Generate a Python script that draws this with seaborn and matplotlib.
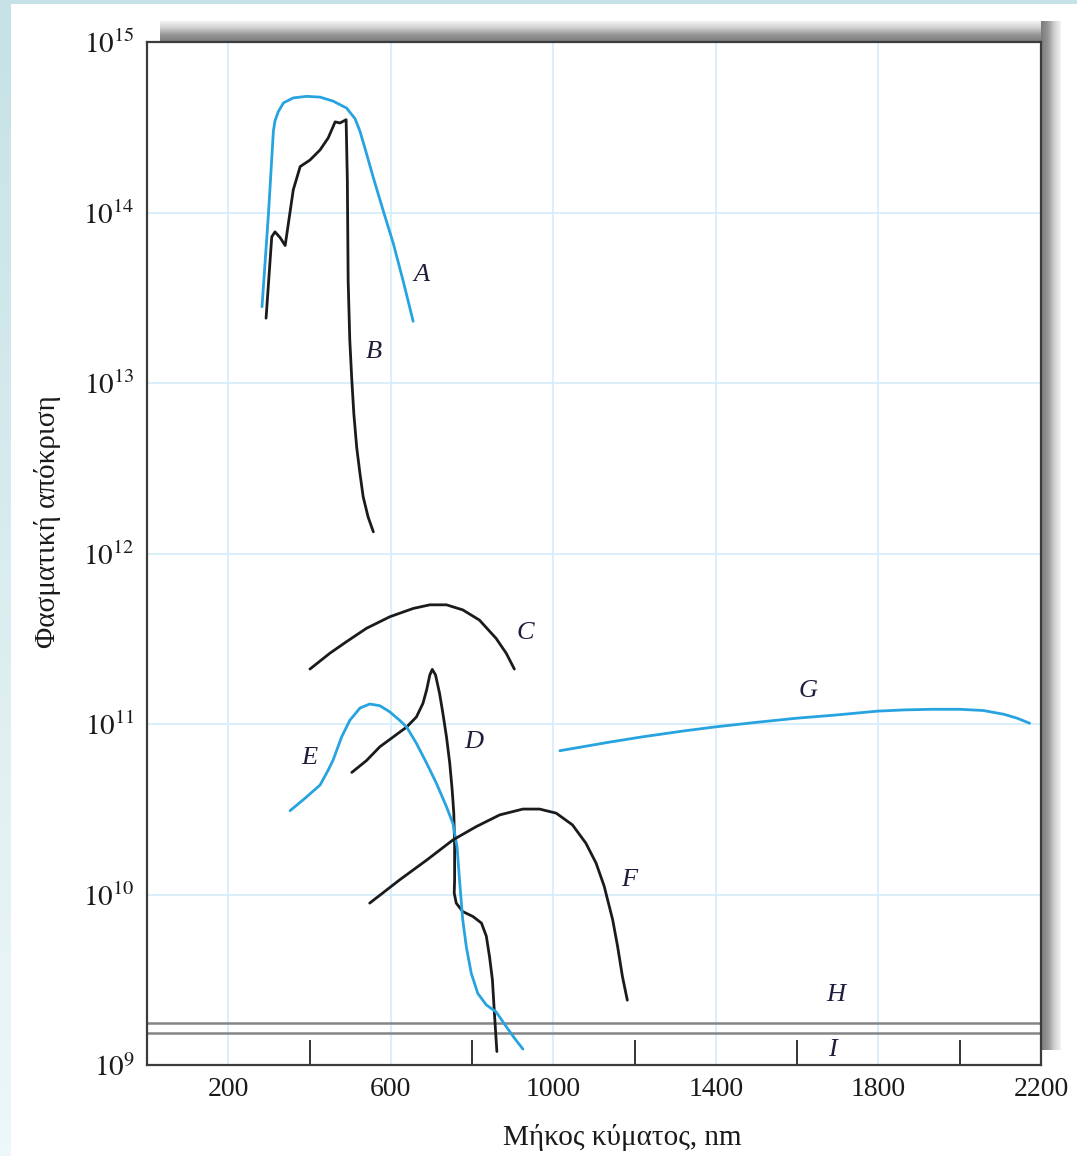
import matplotlib.pyplot as plt
import matplotlib.patches as mpatches
from matplotlib.ticker import NullLocator, FixedLocator
import numpy as np
import seaborn as sns

# values: wavelength (nm) and spectral response
a_x = [283, 299, 311, 315, 323, 336, 360, 393, 426, 458, 491, 512, 524, 536,
       557, 581, 606, 630, 655]
a_y = [2.8e13, 9.9e13, 3.0e14, 3.45e14, 3.9e14, 4.4e14, 4.7e14, 4.8e14,
       4.75e14, 4.5e14, 4.1e14, 3.55e14, 3.0e14, 2.4e14, 1.6e14, 1.03e14,
       6.6e13, 4.0e13, 2.3e13]

b_x = [293, 307, 315, 328, 340, 360, 377, 401, 426, 446, 463, 475, 490, 493,
       495, 499, 504, 509, 516, 524, 532, 544, 557]
b_y = [2.4e13, 7.2e13, 7.7e13, 7.1e13, 6.4e13, 1.36e14, 1.86e14, 2.03e14,
       2.33e14, 2.74e14, 3.4e14, 3.35e14, 3.5e14, 1.55e14, 4.0e13, 1.79e13,
       1.04e13, 6.6e12, 4.2e12, 2.95e12, 2.15e12, 1.64e12, 1.34e12]

c_x = [401, 450, 491, 540, 598, 655, 696, 737, 777, 818, 859, 884, 904]
c_y = [2.1e11, 2.6e11, 3.04e11, 3.64e11, 4.26e11, 4.76e11, 5.0e11, 5.0e11,
       4.67e11, 4.07e11, 3.18e11, 2.6e11, 2.1e11]

d_x = [504, 540, 573, 606, 639, 663, 679, 688, 696, 702, 710, 720, 728, 737,
       745, 751, 755, 757, 757, 756, 761, 777, 802, 823, 835, 843, 850, 855,
       861]
d_y = [5.2e10, 6.1e10, 7.35e10, 8.4e10, 9.6e10, 1.1e11, 1.32e11, 1.58e11,
       1.94e11, 2.09e11, 1.94e11, 1.51e11, 1.16e11, 8.4e10, 5.9e10, 4.1e10,
       3.0e10, 1.91e10, 1.22e10, 1.02e10, 8.9e9, 7.94e9, 7.43e9, 6.8e9,
       5.7e9, 4.3e9, 3.16e9, 2.0e9, 1.2e9]

e_x = [352, 389, 426, 446, 458, 479, 499, 524, 548, 573, 597, 622, 639, 663,
       688, 712, 737, 753, 763, 769, 777, 786, 798, 814, 835, 859, 884, 904,
       925]
e_y = [3.1e10, 3.67e10, 4.39e10, 5.37e10, 6.15e10, 8.4e10, 1.05e11, 1.24e11,
       1.31e11, 1.28e11, 1.18e11, 1.05e11, 9.6e10, 7.7e10, 5.9e10, 4.5e10,
       3.27e10, 2.6e10, 1.9e10, 1.22e10, 7.1e9, 4.9e9, 3.45e9, 2.63e9,
       2.25e9, 2.05e9, 1.68e9, 1.44e9, 1.24e9]

f_x = [548, 622, 688, 753, 810, 868, 925, 966, 1007, 1047, 1080, 1105, 1125,
       1146, 1158, 1170, 1182]
f_y = [8.9e9, 1.22e10, 1.59e10, 2.09e10, 2.5e10, 2.93e10, 3.17e10, 3.17e10,
       3.0e10, 2.56e10, 2.0e10, 1.53e10, 1.12e10, 7.1e9, 4.97e9, 3.3e9, 2.4e9]

g_x = [1016, 1134, 1218, 1320, 1396, 1495, 1596, 1697, 1798, 1865, 1932, 1999,
       2058, 2109, 2142, 2172]
g_y = [6.97e10, 7.8e10, 8.4e10, 9.1e10, 9.6e10, 1.02e11, 1.08e11, 1.13e11,
       1.19e11, 1.21e11, 1.22e11, 1.22e11, 1.2e11, 1.14e11, 1.08e11, 1.01e11]

h_level = 1.76e9
i_level = 1.54e9

curve_names = ['A', 'B', 'C', 'D', 'E', 'F', 'G', 'H', 'I']
label_x = [676, 558, 932, 804, 399, 1187, 1626, 1694, 1688]
label_y = [4.3e13, 1.52e13, 3.4e11, 7.8e10, 6.3e10, 1.22e10, 1.57e11, 2.58e9, 1.22e9]

x_labels = [200, 600, 1000, 1400, 1800, 2200]
x_minor = [400, 800, 1200, 1600, 2000]
y_ticks = [1e9, 1e10, 1e11, 1e12, 1e13, 1e14, 1e15]

sns.set_style("white")
plt.rcParams['font.family'] = ['Liberation Serif', 'DejaVu Serif']
plt.rcParams['mathtext.fontset'] = 'stix'

W, H = 1077, 1156
fig = plt.figure(figsize=(W / 100, H / 100), dpi=100)
fig.patch.set_facecolor('white')

# light blue page edge on top and left
fig.add_artist(mpatches.Rectangle((0, 1 - 4 / H), 1, 4 / H, transform=fig.transFigure,
                                  color='#c6e2e6', lw=0))
left_band = fig.add_axes([0, 0, 11 / W, 1 - 4 / H])
left_band.imshow(np.linspace(0, 1, 100).reshape(-1, 1), aspect='auto',
                 cmap=sns.blend_palette(['#c6e2e6', '#eef7f9'], as_cmap=True))
left_band.axis('off')

# drop shadow around plot frame
L, R, T, B = 147, 1041, 42, 1065
shade = sns.blend_palette(['#f3f3f3', '#cfcfcf', '#959595', '#7c7c7c'], as_cmap=True)
top_sh = fig.add_axes([160 / W, 1 - T / H, (1061 - 160) / W, 21 / H])
top_sh.imshow(np.linspace(0, 1, 50).reshape(-1, 1), aspect='auto', cmap=shade)
top_sh.axis('off')
right_sh = fig.add_axes([R / W, 1 - 1050 / H, 20 / W, (1050 - 21) / H])
right_sh.imshow(np.linspace(1, 0, 50).reshape(1, -1), aspect='auto', cmap=shade)
right_sh.axis('off')

ax = fig.add_axes([L / W, 1 - B / H, (R - L) / W, (B - T) / H])
ax.set_facecolor('white')

blue = '#27a3df'
black = '#1b1b1b'
curves = [(a_x, a_y, blue), (b_x, b_y, black), (c_x, c_y, black),
          (d_x, d_y, black), (e_x, e_y, blue), (f_x, f_y, black),
          (g_x, g_y, blue)]
for xs, ys, col in curves:
    sns.lineplot(x=xs, y=ys, sort=False, estimator=None, color=col, lw=2.0,
                 ax=ax, zorder=3)

for lvl in [h_level, i_level]:
    ax.axhline(lvl, color='#858585', lw=1.8, zorder=2)

for name, lx, ly in zip(curve_names, label_x, label_y):
    ax.text(lx, ly, name, fontsize=19, fontstyle='italic', color='#1e1e3c',
            ha='center', va='center', zorder=4)

ax.set_yscale('log')
ax.set_xlim(0, 2200)
ax.set_ylim(1e9, 1e15)

ax.set_xticks(x_labels)
ax.set_xticklabels([str(v) for v in x_labels], fontsize=20, color='#1a1a1a')
ax.xaxis.set_minor_locator(FixedLocator(x_minor))
ax.set_yticks(y_ticks)
ax.set_yticklabels([r'$10^{%d}$' % int(np.log10(v)) for v in y_ticks],
                   fontsize=21, color='#1a1a1a')
ax.yaxis.set_minor_locator(NullLocator())
ax.tick_params(axis='both', which='major', length=0, pad=9)
ax.tick_params(axis='x', which='minor', bottom=True, direction='in', length=18,
               width=1.4, color='#333333')

ax.grid(True, which='major', color='#d4ecfb', lw=1.2, zorder=0)
ax.set_axisbelow(True)
for sp in ax.spines.values():
    sp.set_color('#3c3c3c')
    sp.set_linewidth(1.6)

ax.set_xlabel('Μήκος κύματος, nm', fontsize=21, color='#1a1a1a')
ax.xaxis.set_label_coords((622 - L) / (R - L), -(1124 - B) / (B - T))
ax.set_ylabel('Φασματική απόκριση', fontsize=21, color='#1a1a1a')
ax.yaxis.set_label_coords(-(L - 61) / (R - L), (B - 522) / (B - T))

fig.savefig('out.png', dpi=100)
